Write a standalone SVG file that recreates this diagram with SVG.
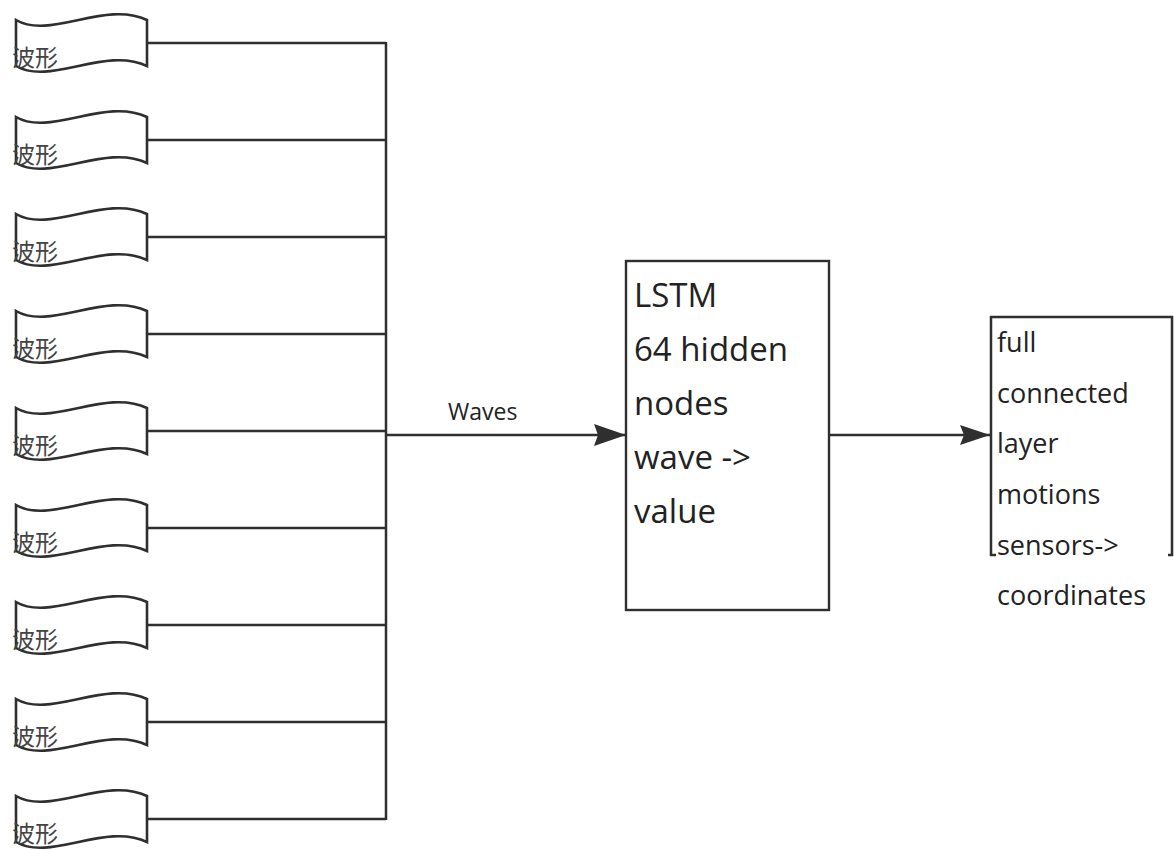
<svg xmlns="http://www.w3.org/2000/svg" width="1174" height="850" viewBox="0 0 1174 850">
<style>
.wave{fill:#fff;stroke:#2f2f2f;stroke-width:2.6}
.wt{font-family:"Noto Sans CJK SC","Noto Sans",sans-serif;font-size:23px;fill:#444}
.ln{stroke:#2f2f2f;stroke-width:2.5;fill:none}
.box{fill:#fff;stroke:#2f2f2f;stroke-width:2.4}
.bt{font-family:"Open Sans","Noto Sans",sans-serif;fill:#222}
</style>
<defs>
<path id="wv" d="M16,20 C50,40 105,0 147,20 L147,66 C105,46 50,86 16,66 Z"/>
<marker id="ah1" markerUnits="userSpaceOnUse" markerWidth="34" markerHeight="24" refX="32" refY="11" orient="auto"><path d="M0,0 L32,11 L0,22 L4,11 Z" fill="#2f2f2f"/></marker>
<marker id="ah2" markerUnits="userSpaceOnUse" markerWidth="32" markerHeight="22" refX="30" refY="10" orient="auto"><path d="M0,0 L30,10 L0,20 L4,10 Z" fill="#2f2f2f"/></marker>
</defs>
<g id="connectors">
<line class="ln" x1="147" y1="43" x2="386" y2="43"/>
<line class="ln" x1="147" y1="140" x2="386" y2="140"/>
<line class="ln" x1="147" y1="237" x2="386" y2="237"/>
<line class="ln" x1="147" y1="334" x2="386" y2="334"/>
<line class="ln" x1="147" y1="431" x2="386" y2="431"/>
<line class="ln" x1="147" y1="528" x2="386" y2="528"/>
<line class="ln" x1="147" y1="625" x2="386" y2="625"/>
<line class="ln" x1="147" y1="722" x2="386" y2="722"/>
<line class="ln" x1="147" y1="819" x2="386" y2="819"/>
<line class="ln" x1="386" y1="42" x2="386" y2="820" stroke-width="3"/>
<line class="ln" x1="386" y1="435" x2="626" y2="435" stroke-width="3.6" marker-end="url(#ah1)"/>
<text x="448" y="420" class="bt" font-size="23">Waves</text>
<line class="ln" x1="829" y1="435" x2="990" y2="435" marker-end="url(#ah2)"/>
</g>
<g id="wave1"><use href="#wv" class="wave"/><text x="12" y="66" class="wt">波形</text></g>
<g id="wave2" transform="translate(0,97)"><use href="#wv" class="wave"/><text x="12" y="66" class="wt">波形</text></g>
<g id="wave3" transform="translate(0,194)"><use href="#wv" class="wave"/><text x="12" y="66" class="wt">波形</text></g>
<g id="wave4" transform="translate(0,291)"><use href="#wv" class="wave"/><text x="12" y="66" class="wt">波形</text></g>
<g id="wave5" transform="translate(0,388)"><use href="#wv" class="wave"/><text x="12" y="66" class="wt">波形</text></g>
<g id="wave6" transform="translate(0,485)"><use href="#wv" class="wave"/><text x="12" y="66" class="wt">波形</text></g>
<g id="wave7" transform="translate(0,582)"><use href="#wv" class="wave"/><text x="12" y="66" class="wt">波形</text></g>
<g id="wave8" transform="translate(0,679)"><use href="#wv" class="wave"/><text x="12" y="66" class="wt">波形</text></g>
<g id="wave9" transform="translate(0,776)"><use href="#wv" class="wave"/><text x="12" y="66" class="wt">波形</text></g>
<g id="lstm">
<rect x="626" y="261" width="203" height="349" class="box"/>
<g class="bt" font-size="33">
<text x="634" y="307">LSTM</text>
<text x="634" y="361">64 hidden</text>
<text x="634" y="415">nodes</text>
<text x="634" y="469">wave -&gt;</text>
<text x="634" y="523">value</text>
</g>
</g>
<g id="fc">
<path d="M996,555 H991 V317 H1172 V555 H1168" class="ln"/>
<g class="bt" font-size="27">
<text x="997" y="352">full</text>
<text x="997" y="403">connected</text>
<text x="997" y="453">layer</text>
<text x="997" y="504">motions</text>
<text x="997" y="555">sensors-&gt;</text>
<text x="997" y="605">coordinates</text>
</g>
</g>
</svg>
